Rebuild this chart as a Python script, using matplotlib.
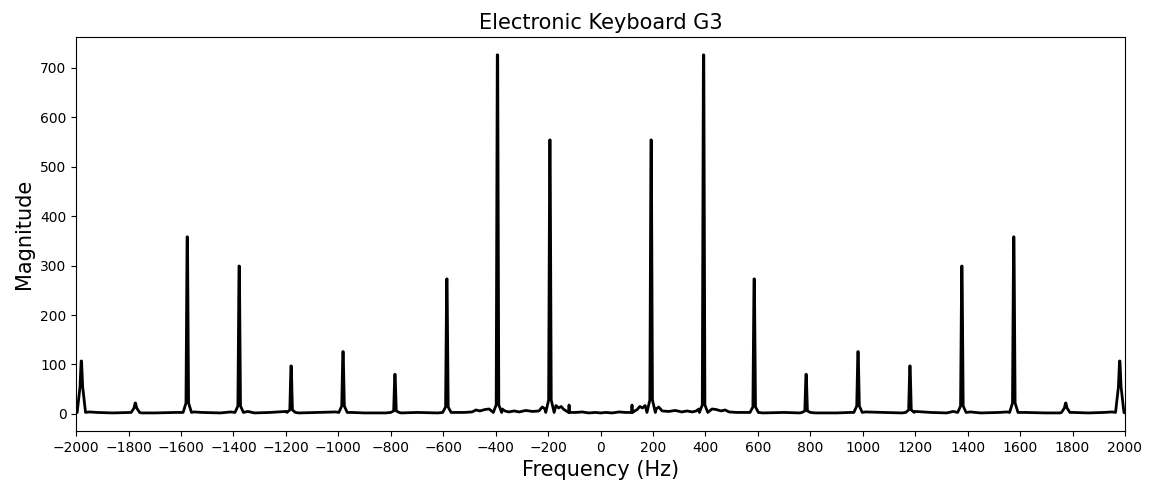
import numpy as np
import matplotlib.pyplot as plt

# Гармоники (положительная часть спектра, Гц) и их амплитуды
peak_freqs = [193, 393, 586, 784, 982, 1180, 1378, 1576, 1774, 1980]
peak_mags = [554, 726, 273, 80, 126, 97, 299, 358, 22, 107]
# Высота "юбки" у основания каждого пика
skirt_mags = [28, 18, 14, 6, 16, 8, 16, 22, 12, 55]

# Шумовой фон (положительная часть спектра)
noise_freqs = [0, 20, 45, 70, 95, 118, 120, 122, 140, 150, 160, 170, 178,
               205, 212, 222, 235, 260, 285, 310, 330, 350, 365, 375,
               410, 425, 440, 460, 475, 490, 520, 560, 620, 700, 760, 820,
               900, 950, 1010, 1080, 1150, 1200, 1260, 1320, 1345, 1410,
               1450, 1520, 1550, 1620, 1700, 1750, 1800, 1860, 1920, 1950, 2000]
noise_mags = [2, 3, 2, 4, 3, 3, 18, 3, 9, 15, 12, 17, 14,
              16, 10, 14, 6, 5, 7, 4, 6, 4, 6, 10,
              14, 10, 9, 6, 8, 4, 3, 3, 2, 3, 2, 2,
              2, 3, 4, 3, 2, 5, 3, 2, 5, 4, 2, 3, 4,
              3, 2, 2, 3, 2, 3, 4, 2]


def build_half():
    pts = []
    for f, m in zip(noise_freqs, noise_mags):
        near = any(abs(f - p) < 18 for p in peak_freqs)
        if not near:
            pts.append((f, m))
    for f, m, s in zip(peak_freqs, peak_mags, skirt_mags):
        pts += [(f - 16, 3), (f - 5, s), (f - 0.8, m),
                (f + 0.8, m), (f + 5, s), (f + 16, 3)]
    pts.sort()
    return np.array(pts)


half = build_half()
freq = np.concatenate([-half[::-1, 0], half[:, 0]])
mag = np.concatenate([half[::-1, 1], half[:, 1]])

fig = plt.figure(figsize=(11.53, 4.83), dpi=100)
ax = fig.add_axes([0.066, 0.108, 0.9097, 0.8155])
ax.plot(freq, mag, color='black', linewidth=2.0)

ax.set_xlim(-2000, 2000)
ax.set_xticks(np.arange(-2000, 2001, 200))
ax.set_title('Electronic Keyboard G3', fontsize=15)
ax.set_xlabel('Frequency (Hz)', fontsize=15)
ax.set_ylabel('Magnitude', fontsize=15)

fig.savefig('out.png', dpi=100)
